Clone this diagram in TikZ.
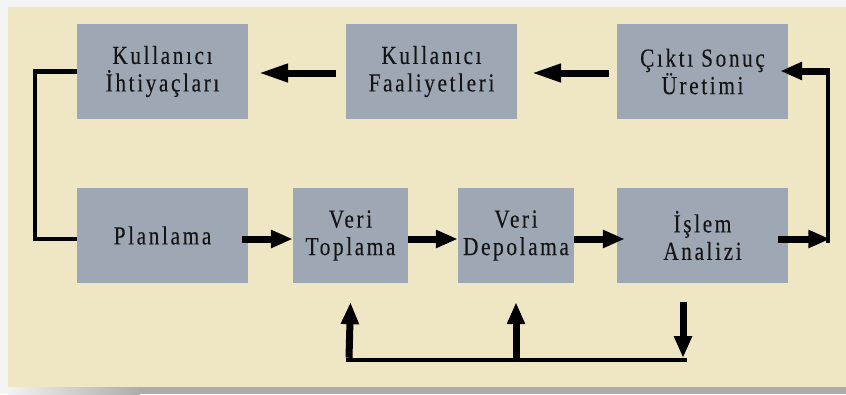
\documentclass[tikz,border=0pt]{standalone}
\usepackage{fontspec}
\setmainfont{Liberation Serif}[LetterSpace=10, FakeStretch=0.82, FakeBold=0.2]
\usetikzlibrary{arrows.meta}
\definecolor{outerbg}{RGB}{244,244,244}
\definecolor{cream}{RGB}{239,231,196}
\definecolor{boxc}{RGB}{157,168,180}
\definecolor{txt}{RGB}{20,20,20}
\tikzset{
  box/.style={fill=boxc, minimum height=95pt, inner sep=0pt, text=txt, align=center,
              font=\fontsize{26}{27.5}\selectfont},
  arr/.style={line width=7pt, -{Triangle[width=17pt,length=22pt]}},
  arrlong/.style={line width=7pt, -{Triangle[width=17pt,length=30pt]}},
  link/.style={line width=4.5pt}
}
\begin{document}
\begin{tikzpicture}[x=1pt,y=-1pt]
\useasboundingbox (0,0) rectangle (846,394);
\fill[outerbg] (0,0) rectangle (846,394);
\shade[left color=gray!10, right color=gray!65] (8,386) rectangle (140,394);
\fill[gray!65] (139,386) rectangle (846,394);
\fill[cream] (8,7) rectangle (846,387);

% top row
\node[box, minimum width=171pt] (ihti)  at (162.5,71.5) {Kullanıcı\\İhtiyaçları};
\node[box, minimum width=171pt] (faal)  at (431.5,71.5) {Kullanıcı\\Faaliyetleri};
\node[box, minimum width=171pt] (cikti) at (702.5,71.5) {Çıktı Sonuç\\Üretimi};
% bottom row
\node[box, minimum width=171pt] (plan)  at (162.5,235.5) {Planlama};
\node[box, minimum width=115pt] (topl)  at (350.5,235.5) {Veri\\Toplama};
\node[box, minimum width=116pt] (depo)  at (516,235.5) {Veri\\Depolama};
\node[box, minimum width=171pt] (islem) at (702.5,235.5) {İşlem\\Analizi};

% top row arrows
\draw[arrlong] ([xshift=-10pt,yshift=-1.5pt]faal.west) -- ([xshift=10pt,yshift=-1.5pt]ihti.east);
\draw[arrlong] ([xshift=-8pt,yshift=-1.5pt]cikti.west) -- ([xshift=14pt,yshift=-1.5pt]faal.east);

% bottom row arrows
\draw[arr] ([xshift=-6pt,yshift=-3.5pt]plan.east) -- ([yshift=-3.5pt]topl.west);
\draw[arr] ([yshift=-3.5pt]topl.east) -- ([yshift=-3.5pt]depo.west);
\draw[arr] ([yshift=-3.5pt]depo.east) -- ([xshift=8pt,yshift=-3.5pt]islem.west);

% left connector
\draw[link] (ihti.west) -- ++(-42,0) |- ([yshift=-3.5pt]plan.west);

% right connector
\coordinate (rb) at (828,239);
\coordinate (rt) at (828,71);
\draw[link] ([yshift=-3.5pt]rb) -- ([yshift=3.5pt]rt);
\draw[arr] ([xshift=-10pt,yshift=-3.5pt]islem.east) -- ([xshift=2.25pt]rb);
\draw[arr] ([xshift=2.25pt]rt) -- ([xshift=-8pt,yshift=0.5pt]cikti.east);

% bottom loop
\coordinate (b1) at (349,360);
\coordinate (b2) at (516,360);
\coordinate (b3) at (683,360);
\draw[link] ([xshift=-3.5pt]b1) -- ([xshift=3.5pt]b3);
\draw[arr] ([yshift=2.25pt]b1) -- ([yshift=-19pt]topl.south);
\draw[arr] ([yshift=2.25pt]b2) -- ([yshift=-19pt]depo.south);
\draw[arr] ([xshift=-19.5pt,yshift=-19pt]islem.south) -- ([yshift=2pt]b3);
\end{tikzpicture}
\end{document}
